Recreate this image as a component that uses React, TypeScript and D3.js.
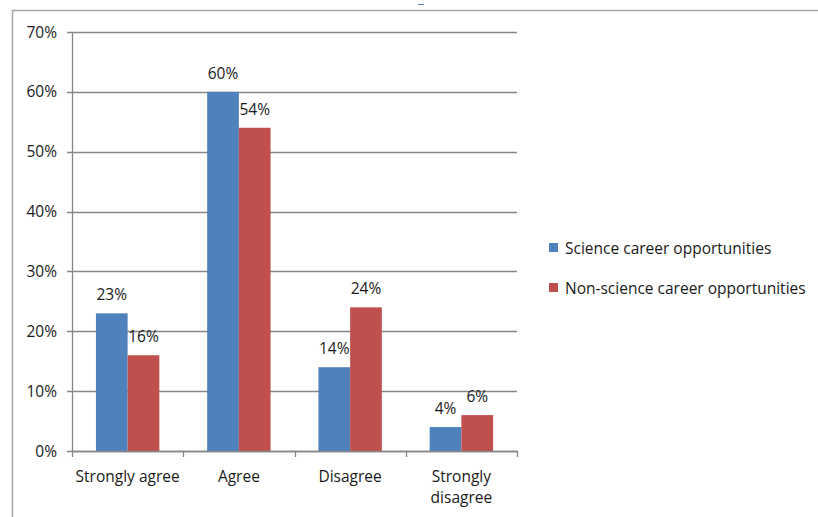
import { useEffect, useRef } from 'react';
import * as d3 from 'd3';

const categories = ['Strongly agree', 'Agree', 'Disagree', 'Strongly disagree'];
const seriesNames = ['Science career opportunities', 'Non-science career opportunities'];
const science = [23, 60, 14, 4];
const nonScience = [16, 54, 24, 6];
const yTicks = [0, 10, 20, 30, 40, 50, 60, 70];
const colors = ['#4F81BD', '#C0504D'];

export default function App() {
  const svgRef = useRef<SVGSVGElement>(null);

  useEffect(() => {
    if (!svgRef.current) return;
    const root = d3.select(svgRef.current);
    root.selectAll('*').remove();

    const font = 'Open Sans, Noto Sans, sans-serif';
    const fs = 15.5;
    const ink = '#1a1a1a';
    const left = 72, right = 517, top = 32, bottom = 451;

    // outer chart frame (cut off on the right and bottom)
    root.append('path')
      .attr('d', 'M12.5,530 L12.5,10.5 L830,10.5')
      .attr('fill', 'none')
      .attr('stroke', '#a6a6a6')
      .attr('stroke-width', 1.5);
    root.append('rect')
      .attr('x', 418).attr('y', 4).attr('width', 6).attr('height', 1)
      .attr('fill', '#4F81BD');

    const x = d3.scaleBand<string>()
      .domain(categories)
      .range([left, right])
      .paddingInner(0.43)
      .paddingOuter(0.215);
    const xOuter = d3.scaleBand<string>().domain(categories).range([left, right]);
    const xInner = d3.scaleBand<number>().domain([0, 1]).range([0, x.bandwidth()]);
    const y = d3.scaleLinear().domain([0, 70]).range([bottom, top]);

    const g = root.append('g');

    // gridlines
    g.selectAll('line.grid')
      .data(yTicks)
      .join('line')
      .attr('x1', left - 5)
      .attr('x2', right)
      .attr('y1', (d) => Math.round(y(d)) + 0.5)
      .attr('y2', (d) => Math.round(y(d)) + 0.5)
      .attr('stroke', '#868686')
      .attr('stroke-width', 1.3);

    g.selectAll('text.ytick')
      .data(yTicks)
      .join('text')
      .attr('x', 57)
      .attr('y', (d) => y(d) + 5.5)
      .attr('text-anchor', 'end')
      .attr('font-family', font)
      .attr('font-size', fs)
      .attr('fill', ink)
      .text((d) => `${d}%`);

    const series = [science, nonScience];
    series.forEach((vals, si) => {
      g.selectAll(`rect.s${si}`)
        .data(vals)
        .join('rect')
        .attr('x', (_, i) => (x(categories[i]) as number) + (xInner(si) as number))
        .attr('y', (d) => y(d))
        .attr('width', xInner.bandwidth())
        .attr('height', (d) => y(0) - y(d))
        .attr('fill', colors[si]);

      g.selectAll(`text.l${si}`)
        .data(vals)
        .join('text')
        .attr('x', (_, i) => (x(categories[i]) as number) + (xInner(si) as number) + xInner.bandwidth() / 2)
        .attr('y', (d) => y(d) - 13)
        .attr('text-anchor', 'middle')
        .attr('font-family', font)
        .attr('font-size', fs)
        .attr('fill', ink)
        .text((d) => `${d}%`);
    });

    // axes
    g.append('line')
      .attr('x1', left + 0.5).attr('x2', left + 0.5)
      .attr('y1', top).attr('y2', bottom)
      .attr('stroke', '#868686').attr('stroke-width', 1.3);
    g.append('line')
      .attr('x1', left).attr('x2', right + 1)
      .attr('y1', bottom + 0.5).attr('y2', bottom + 0.5)
      .attr('stroke', '#868686').attr('stroke-width', 1.3);

    const boundaries = categories.map((c) => xOuter(c) as number).concat([right]);
    g.selectAll('line.xtick')
      .data(boundaries)
      .join('line')
      .attr('x1', (d) => Math.round(d) + 0.5)
      .attr('x2', (d) => Math.round(d) + 0.5)
      .attr('y1', bottom)
      .attr('y2', bottom + 6)
      .attr('stroke', '#868686')
      .attr('stroke-width', 1.3);

    const catLabels = g.selectAll('text.cat')
      .data(categories)
      .join('text')
      .attr('x', (d) => (xOuter(d) as number) + xOuter.bandwidth() / 2)
      .attr('y', 482)
      .attr('text-anchor', 'middle')
      .attr('font-family', font)
      .attr('font-size', fs)
      .attr('fill', ink);
    catLabels.each(function (d) {
      const t = d3.select(this);
      const lines = d === 'Strongly disagree' ? ['Strongly', 'disagree'] : [d];
      lines.forEach((ln, li) => {
        t.append('tspan')
          .attr('x', (xOuter(d) as number) + xOuter.bandwidth() / 2)
          .attr('dy', li === 0 ? 0 : 21)
          .text(ln);
      });
    });

    // legend
    const legend = g.append('g');
    seriesNames.forEach((name, i) => {
      legend.append('rect')
        .attr('x', 549).attr('y', 243 + i * 40)
        .attr('width', 9).attr('height', 9)
        .attr('fill', colors[i]);
      legend.append('text')
        .attr('x', 565).attr('y', 253.5 + i * 40)
        .attr('font-family', font)
        .attr('font-size', fs)
        .attr('fill', ink)
        .text(name);
    });
  }, []);

  return (
    <svg ref={svgRef} width={818} height={517}
      style={{ position: 'absolute', left: 0, top: 0, background: '#fff' }} />
  );
}
